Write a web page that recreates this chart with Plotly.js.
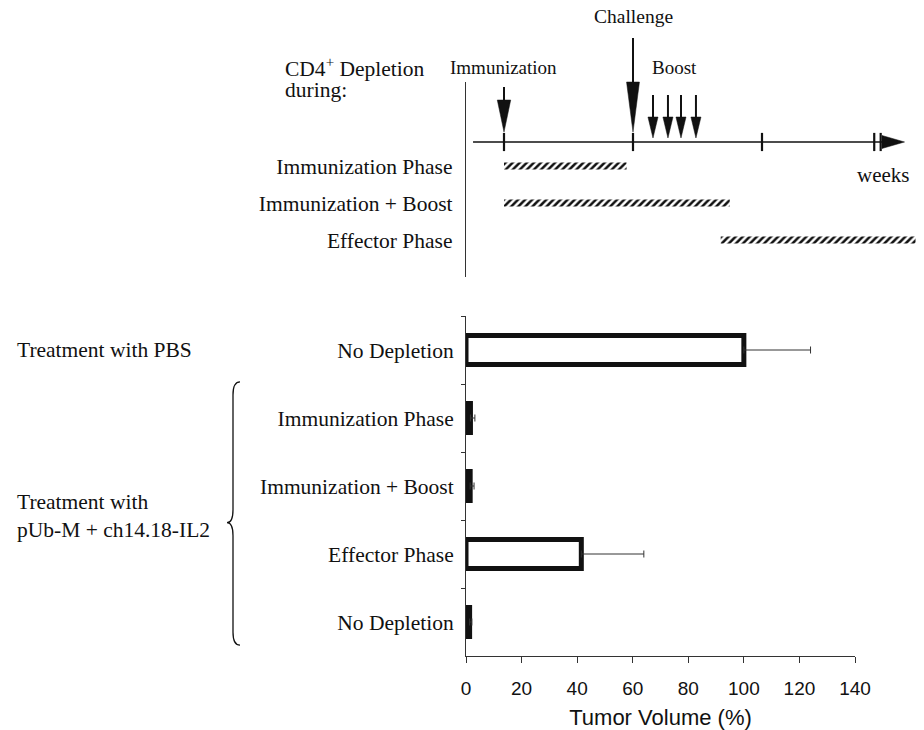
<!DOCTYPE html>
<html><head><meta charset="utf-8">
<script src="https://cdn.plot.ly/plotly-3.0.1.min.js"></script>
<style>html,body{margin:0;padding:0;background:#fff}#chart{width:924px;height:730px}</style>
</head><body><div id="chart"></div>
<script>
// ---------- bar chart data ----------
const groupLabels = ['No Depletion', 'Immunization Phase', 'Immunization + Boost', 'Effector Phase', 'No Depletion'];
const tumorVolume = [100, 1.6, 1.5, 41.5, 1.3];
const tumorErrorPlus = [24, 1.6, 1.4, 22.5, 0.8];
const openBar = [true, false, false, true, false];
const xTickValues = [0, 20, 40, 60, 80, 100, 120, 140];

// ---------- schematic data (schematic time units) ----------
const phaseLabels = ['Immunization Phase', 'Immunization + Boost', 'Effector Phase'];
const phaseStart = [0, 0, 1.68];
const phaseEnd = [0.95, 1.75, 3.19];
const immunizationTimes = [0];
const challengeTimes = [1];
const boostTimes = [1.155, 1.271, 1.372, 1.488];
const timelineTicks = [0, 1, 2, 2.87, 2.92];
const timelineSpan = [-0.24, 3.105];

// ---------- styles ----------
const SERIF = 'Liberation Serif, Times New Roman, serif';
const SANS = 'Liberation Sans, Arial, sans-serif';
const INK = '#111';
const TL = 0.351; // row of the timeline on the schematic axis
const arrowStyle = {
  immunization: {top: -1.135, headTop: -0.784, tip: 0.081, half: 0.052},
  challenge:    {top: -2.459, headTop: -1.27,  tip: 0.081, half: 0.05},
  boost:        {top: -0.919, headTop: -0.324, tip: 0.243, half: 0.039}
};
const timelineHead = {len: 0.175, half: 0.176};

function arrowTraces(times, st) {
  const sx = [], sy = [], hx = [], hy = [];
  times.forEach(t => {
    sx.push(t, t, null); sy.push(st.top, st.headTop + 0.1, null);
    hx.push(t - st.half, t + st.half, t, t - st.half, null);
    hy.push(st.headTop, st.headTop, st.tip, st.headTop, null);
  });
  return [
    {type: 'scatter', mode: 'lines', x: sx, y: sy, xaxis: 'x2', yaxis: 'y2',
     line: {color: INK, width: 2}, hoverinfo: 'skip'},
    {type: 'scatter', mode: 'lines', x: hx, y: hy, xaxis: 'x2', yaxis: 'y2',
     fill: 'toself', fillcolor: INK, line: {color: INK, width: 0.5}, hoverinfo: 'skip'}
  ];
}

const traces = [];

// bar chart
traces.push({
  type: 'bar', orientation: 'h',
  x: tumorVolume, y: groupLabels.map((_, i) => i),
  width: 0.426,
  marker: {color: openBar.map(o => o ? 'white' : INK), line: {color: INK, width: 5}},
  error_x: {type: 'data', symmetric: false, array: tumorErrorPlus, arrayminus: tumorErrorPlus.map(() => 0),
            color: '#333', thickness: 1, width: 3.5},
  xaxis: 'x', yaxis: 'y', hoverinfo: 'skip'
});

// schematic hatched phases (labelled axis y3)
traces.push({
  type: 'bar', orientation: 'h',
  base: phaseStart, x: phaseEnd.map((e, i) => e - phaseStart[i]),
  y: phaseLabels.map((_, i) => i + 1), width: 0.19,
  marker: {color: 'white', line: {width: 0},
           pattern: {shape: '/', fgcolor: INK, bgcolor: 'white', size: 5, solidity: 0.5}},
  xaxis: 'x2', yaxis: 'y3', hoverinfo: 'skip'
});

// timeline
traces.push({
  type: 'scatter', mode: 'lines', x: [timelineSpan[0], timelineSpan[1] - timelineHead.len], y: [TL, TL],
  xaxis: 'x2', yaxis: 'y2', line: {color: INK, width: 1.6}, hoverinfo: 'skip'
});
traces.push({
  type: 'scatter', mode: 'lines',
  x: [timelineSpan[1] - timelineHead.len, timelineSpan[1], timelineSpan[1] - timelineHead.len, timelineSpan[1] - timelineHead.len],
  y: [TL - timelineHead.half, TL, TL + timelineHead.half, TL - timelineHead.half],
  fill: 'toself', fillcolor: INK, line: {color: INK, width: 0.5},
  xaxis: 'x2', yaxis: 'y2', hoverinfo: 'skip'
});
traces.push({
  type: 'scatter', mode: 'markers', x: timelineTicks, y: timelineTicks.map(() => TL),
  marker: {symbol: 'line-ns-open', size: 13, color: INK, line: {color: INK, width: 2.2}},
  xaxis: 'x2', yaxis: 'y2', cliponaxis: false, hoverinfo: 'skip'
});

// arrows
traces.push(...arrowTraces(immunizationTimes, arrowStyle.immunization));
traces.push(...arrowTraces(challengeTimes, arrowStyle.challenge));
traces.push(...arrowTraces(boostTimes, arrowStyle.boost));

const py = p => 1 - p / 730, px = p => p / 924;
const boostCenter = boostTimes.reduce((a, b) => a + b, 0) / boostTimes.length;

const txt = (text, xref, x, y, size, xanchor) => ({
  text, xref, x, yref: 'paper', y: py(y), showarrow: false,
  xanchor: xanchor || 'center', yanchor: 'middle',
  font: {family: SERIF, size, color: INK}
});

const annotations = [
  txt('Challenge', 'x2', challengeTimes[0], 17, 19.5),
  txt('Immunization', 'x2', immunizationTimes[0], 67, 19),
  txt('Boost', 'x2', boostCenter, 67, 19),
  txt('CD4<sup>+</sup> Depletion', 'paper', px(283), 67, 21.5, 'left'),
  txt('during:', 'paper', px(283), 90, 21.5, 'left'),
  txt('weeks', 'paper', px(883), 175, 21),
  txt('Treatment with PBS', 'paper', px(15), 350, 21.5, 'left'),
  txt('Treatment with', 'paper', px(15), 502, 21.5, 'left'),
  txt('pUb-M + ch14.18-IL2', 'paper', px(15), 530, 21.5, 'left')
];

// curly brace grouping the treated groups (paper x, category y)
const bx0 = px(240), bx1 = px(233), bx2 = px(227);
const bracePath = `M ${bx0},0.47 Q ${bx1},0.47 ${bx1},0.66 L ${bx1},2.35 Q ${bx1},2.54 ${bx2},2.54 ` +
                  `Q ${bx1},2.54 ${bx1},2.73 L ${bx1},4.15 Q ${bx1},4.34 ${bx0},4.34`;

const layout = {
  width: 924, height: 730,
  margin: {l: 0, r: 0, t: 0, b: 0},
  paper_bgcolor: 'white', plot_bgcolor: 'rgba(0,0,0,0)',
  showlegend: false, barmode: 'overlay',
  xaxis: {
    domain: [px(466), px(855)], range: [0, 140], anchor: 'y',
    tickmode: 'array', tickvals: xTickValues, ticks: 'outside', ticklen: 6, tickcolor: '#333', tickwidth: 1,
    showline: true, linecolor: '#333', linewidth: 1, showgrid: false, zeroline: false,
    tickfont: {family: SANS, size: 19, color: INK}, ticklabelstandoff: 9,
    title: {text: 'Tumor Volume (%)', font: {family: SANS, size: 22, color: INK}, standoff: 16}
  },
  yaxis: {
    domain: [py(656), py(316)], range: [4.5, -0.5], anchor: 'x',
    tickmode: 'array', tickvals: groupLabels.map((_, i) => i), ticktext: groupLabels, ticks: '',
    minor: {tickmode: 'array', tickvals: [-0.5, 0.5, 1.5, 2.5, 3.5], ticks: 'outside', ticklen: 4, tickcolor: '#333'},
    showline: true, linecolor: '#333', linewidth: 1, showgrid: false, zeroline: false,
    tickfont: {family: SERIF, size: 21.5, color: INK}, ticklabelstandoff: 7
  },
  xaxis2: {
    domain: [px(466), px(916)], range: [-0.29457, 3.1938], anchor: 'y2', visible: false
  },
  yaxis2: {
    domain: [py(277), py(28)], range: [4.0, -2.73], anchor: 'x2', visible: false
  },
  yaxis3: {
    domain: [py(277), py(82)], range: [4.0, -1.27], anchor: 'x2',
    tickmode: 'array', tickvals: phaseLabels.map((_, i) => i + 1), ticktext: phaseLabels, ticks: '',
    showline: true, linecolor: '#333', linewidth: 1.2, showgrid: false, zeroline: false,
    tickfont: {family: SERIF, size: 21.5, color: INK}, ticklabelstandoff: 8
  },
  annotations: annotations,
  shapes: [{type: 'path', xref: 'paper', yref: 'y', path: bracePath, line: {color: INK, width: 1.3}}]
};

Plotly.newPlot('chart', traces, layout, {staticPlot: true, displayModeBar: false});
</script>
</body></html>
